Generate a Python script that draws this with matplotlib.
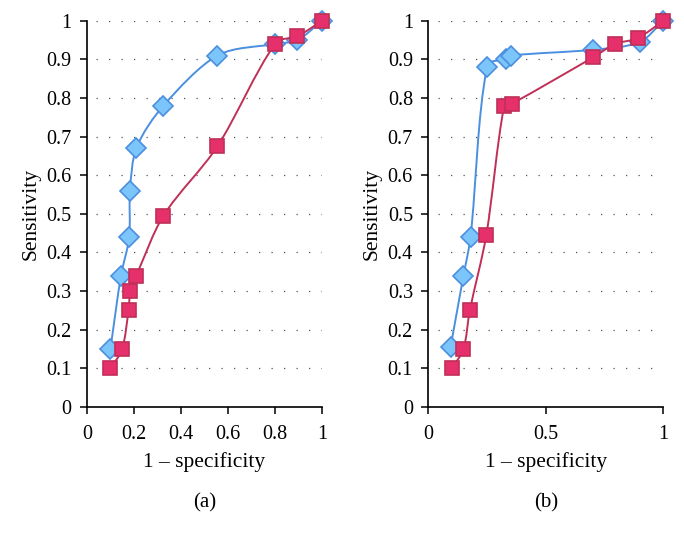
import numpy as np
import matplotlib
matplotlib.use('Agg')
import matplotlib.pyplot as plt
from matplotlib.path import Path
from matplotlib.patches import PathPatch

# panel (a)
a_blue_x = [0.10, 0.145, 0.18, 0.183, 0.21, 0.325, 0.555, 0.80, 0.895, 1.0]
a_blue_y = [0.15, 0.34, 0.44, 0.56, 0.67, 0.78, 0.91, 0.94, 0.95, 1.0]
a_red_x = [0.10, 0.15, 0.177, 0.185, 0.21, 0.325, 0.555, 0.80, 0.895, 1.0]
a_red_y = [0.10, 0.15, 0.25, 0.30, 0.34, 0.495, 0.675, 0.94, 0.96, 1.0]

# panel (b)
b_blue_x = [0.095, 0.15, 0.18, 0.25, 0.33, 0.35, 0.70, 0.90, 1.0]
b_blue_y = [0.155, 0.34, 0.44, 0.88, 0.90, 0.91, 0.925, 0.945, 1.0]
b_red_x = [0.10, 0.15, 0.177, 0.247, 0.323, 0.355, 0.70, 0.795, 0.89, 1.0]
b_red_y = [0.10, 0.15, 0.25, 0.445, 0.78, 0.785, 0.905, 0.94, 0.955, 1.0]

x_ticks_a = [0, 0.2, 0.4, 0.6, 0.8, 1]
x_labels_a = ['0', '0.2', '0.4', '0.6', '0.8', '1']
x_ticks_b = [0, 0.5, 1]
x_labels_b = ['0', '0.5', '1']
y_ticks = [i / 10 for i in range(11)]
y_labels = ['0'] + ['%.1f' % v for v in y_ticks[1:-1]] + ['1']

BLUE_LINE = '#4a8fe0'
BLUE_FILL = '#7cc5fa'
RED_LINE = '#bf2f57'
RED_FILL = '#e5306c'

plt.rcParams['font.family'] = ['Liberation Serif', 'DejaVu Serif']


def smooth_path(x, y, t=0.3):
    # bezier path through the points; tangents scaled by the segment
    # length so short steps do not overshoot
    p = np.column_stack([x, y])
    n = len(p)
    tang = []
    for i in range(n):
        d = p[min(i + 1, n - 1)] - p[max(i - 1, 0)]
        tang.append(d / (np.hypot(*d) + 1e-12))
    verts = [p[0]]
    codes = [Path.MOVETO]
    for i in range(n - 1):
        seg = np.hypot(*(p[i + 1] - p[i]))
        c1 = p[i] + tang[i] * seg * t
        c2 = p[i + 1] - tang[i + 1] * seg * t
        verts += [c1, c2, p[i + 1]]
        codes += [Path.CURVE4] * 3
    return Path(verts, codes)


def draw_panel(ax, bx, by, rx, ry, xt, xl, tag):
    ax.add_patch(PathPatch(smooth_path(bx, by), fill=False, ec=BLUE_LINE,
                           lw=1.4, zorder=2, clip_on=False))
    ax.plot(bx, by, ls='none', marker='D', ms=10.5, mfc=BLUE_FILL,
            mec=BLUE_LINE, mew=1.2, zorder=3, clip_on=False)
    ax.add_patch(PathPatch(smooth_path(rx, ry), fill=False, ec=RED_LINE,
                           lw=1.4, zorder=4, clip_on=False))
    ax.plot(rx, ry, ls='none', marker='s', ms=10.5, mfc=RED_FILL,
            mec=RED_LINE, mew=1.2, zorder=5, clip_on=False)
    ax.set_xlim(0, 1)
    ax.set_ylim(0, 1)
    ax.set_xticks(xt)
    ax.set_xticklabels(xl)
    ax.set_yticks(y_ticks)
    ax.set_yticklabels(y_labels)
    for yv in y_ticks[1:]:
        ax.axhline(yv, xmin=0.04, color='#555555', lw=0.9,
                   ls=(0, (1, 9)), zorder=1)
    for s in ['top', 'right']:
        ax.spines[s].set_visible(False)
    for s in ['left', 'bottom']:
        ax.spines[s].set_linewidth(1.2)
    ax.tick_params(direction='out', length=5, width=1.1, labelsize=14.5)
    ax.tick_params(axis='x', pad=8)
    ax.tick_params(axis='y', pad=6)
    ax.set_xlabel('1 – specificity', fontsize=15.5, labelpad=6)
    ax.set_ylabel('Sensitivity', fontsize=15.5, labelpad=4)
    ax.text(0.5, -0.248, tag, transform=ax.transAxes, ha='center',
            va='center', fontsize=15)


fig = plt.figure(figsize=(6.84, 5.47), dpi=100)
ax1 = fig.add_axes([0.127, 0.256, 0.344, 0.706])
ax2 = fig.add_axes([0.626, 0.256, 0.344, 0.706])
draw_panel(ax1, a_blue_x, a_blue_y, a_red_x, a_red_y,
           x_ticks_a, x_labels_a, '(a)')
draw_panel(ax2, b_blue_x, b_blue_y, b_red_x, b_red_y,
           x_ticks_b, x_labels_b, '(b)')
fig.savefig('out.png', dpi=100)
